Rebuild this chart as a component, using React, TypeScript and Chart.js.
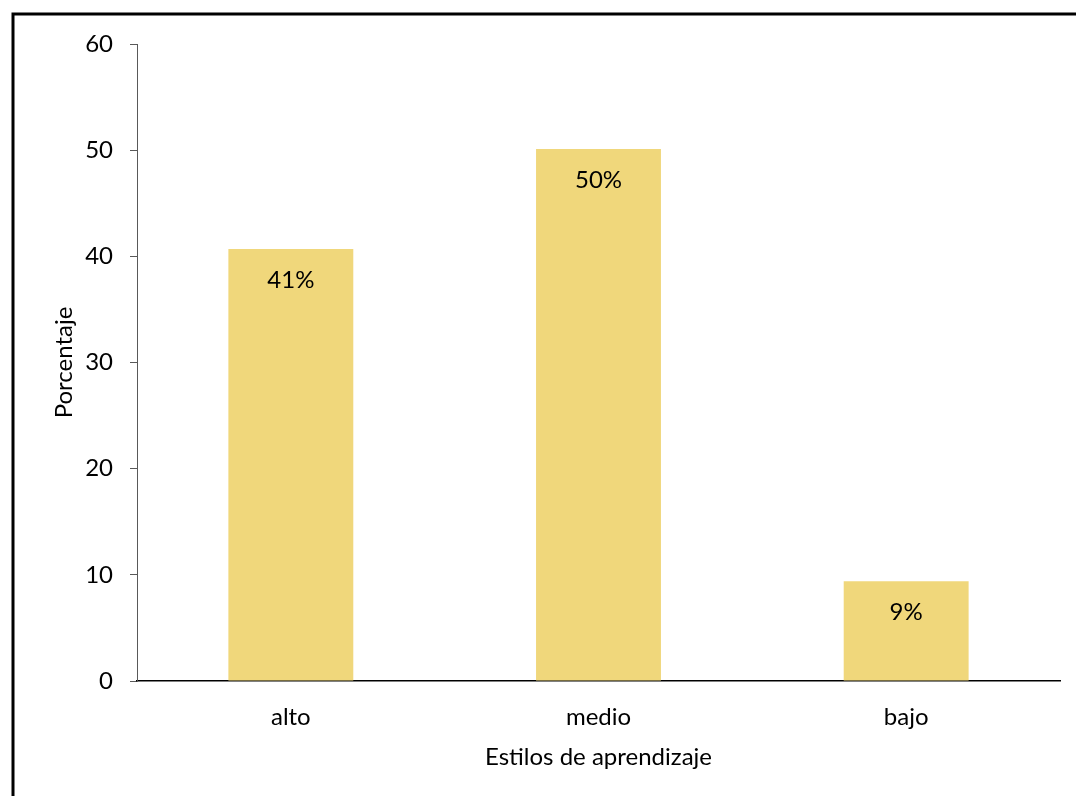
import React, { useEffect, useRef } from "react";
import { Chart, registerables } from "chart.js";

Chart.register(...registerables);

const categories = ["alto", "medio", "bajo"];
const values = [40.7, 50.1, 9.4];
const valueLabels = ["41%", "50%", "9%"];
const yTicks = [0, 10, 20, 30, 40, 50, 60];

const FONT = "Lato, 'Open Sans', sans-serif";
const FS = 24;

const dataLabelPlugin = {
  id: "dataLabels",
  afterDatasetsDraw(chart: any) {
    const ctx = chart.ctx;
    const meta = chart.getDatasetMeta(0);
    ctx.save();
    ctx.font = `${FS}px ${FONT}`;
    ctx.fillStyle = "#000";
    ctx.textAlign = "center";
    ctx.textBaseline = "middle";
    meta.data.forEach((bar: any, i: number) => {
      ctx.fillText(valueLabels[i], bar.x, bar.y + 31);
    });
    ctx.restore();
  },
};

const framePlugin = {
  id: "frame",
  afterDraw(chart: any) {
    const ctx = chart.ctx;
    ctx.save();
    ctx.strokeStyle = "#000";
    ctx.lineWidth = 3;
    ctx.strokeRect(13, 14, 1300, 1000);
    ctx.restore();
  },
};

export default function App() {
  const ref = useRef<HTMLCanvasElement>(null);
  useEffect(() => {
    if (!ref.current) return;
    const chart = new Chart(ref.current, {
      type: "bar",
      data: {
        labels: categories,
        datasets: [
          {
            data: values,
            backgroundColor: "#F0D77B",
            borderWidth: 0,
            categoryPercentage: 1,
            barPercentage: 0.406,
          },
        ],
      },
      options: {
        responsive: false,
        animation: false,
        devicePixelRatio: 1,
        layout: { padding: { top: 44, right: 16, bottom: 0, left: 0 } },
        plugins: { legend: { display: false }, tooltip: { enabled: false } },
        scales: {
          x: {
            grid: { display: false },
            border: { display: true, color: "#000", width: 1.5 },
            ticks: { color: "#000", font: { family: FONT, size: FS }, padding: 14 },
            title: {
              display: true,
              text: "Estilos de aprendizaje",
              color: "#000",
              font: { family: FONT, size: FS },
              padding: { top: 0, bottom: 24 },
            },
            afterFit(scale: any) {
              scale.height = 115;
            },
          },
          y: {
            min: 0,
            max: 60,
            afterBuildTicks(scale: any) {
              scale.ticks = yTicks.map((v) => ({ value: v }));
            },
            grid: {
              drawOnChartArea: false,
              drawTicks: true,
              tickLength: 7,
              color: "#595959",
            },
            border: { display: true, color: "#595959", width: 1 },
            ticks: { color: "#000", font: { family: FONT, size: FS }, padding: 17 },
            title: {
              display: true,
              text: "Porcentaje",
              color: "#000",
              font: { family: FONT, size: FS },
              padding: { top: 50, bottom: 0 },
            },
            afterFit(scale: any) {
              scale.width = 137;
            },
          },
        },
      },
      plugins: [dataLabelPlugin, framePlugin],
    });
    return () => chart.destroy();
  }, []);
  return (
    <div style={{ position: "fixed", left: 0, top: 0, width: 1076, height: 796, overflow: "hidden", background: "#fff" }}>
      <canvas ref={ref} width={1076} height={796} style={{ display: "block" }} />
    </div>
  );
}
